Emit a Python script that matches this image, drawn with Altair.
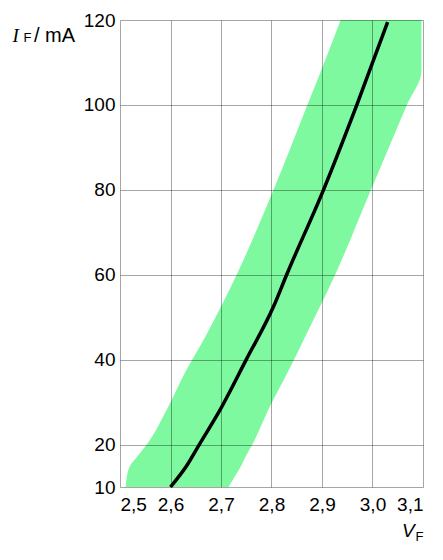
import altair as alt
import pandas as pd

# Tolerance band (forward current in mA, min / max forward voltage in V)
band_I = [10, 12, 15, 17, 20, 29, 37, 45, 60, 80, 100, 108, 120]
band_lo = [2.511, 2.513, 2.520, 2.533, 2.553, 2.596, 2.629, 2.667, 2.731, 2.804, 2.871, 2.898, 2.937]
band_hi = [2.715, 2.725, 2.740, 2.748, 2.762, 2.797, 2.832, 2.865, 2.926, 2.997, 3.068, 3.097, 3.097]

# Typical characteristic
curve_I = [10, 15, 20, 27.5, 40, 52.5, 60, 80, 100, 119.5]
curve_V = [2.600, 2.632, 2.657, 2.695, 2.750, 2.804, 2.830, 2.903, 2.969, 3.030]

x_ticks = [2.5, 2.6, 2.7, 2.8, 2.9, 3.0, 3.1]
y_ticks = [10, 20, 40, 60, 80, 100, 120]

band_df = pd.DataFrame({"I": band_I, "lo": band_lo, "hi": band_hi})
curve_df = pd.DataFrame({"I": curve_I, "V": curve_V})

W, H = 303, 467

xscale = alt.Scale(domain=[2.5, 3.1], nice=False, zero=False)
yscale = alt.Scale(domain=[10, 120], nice=False, zero=False)

axis_common = dict(
    grid=True, gridColor="#000000", gridOpacity=0.35, gridWidth=1,
    domain=False, ticks=False, title=None, zindex=1,
    labelFont="Liberation Sans", labelFontSize=19, labelColor="#000000",
)

xaxis = alt.Axis(values=x_ticks, labelPadding=8,
                 labelExpr="replace(format(datum.value, '.1f'), '.', ',')",
                 **axis_common)
yaxis = alt.Axis(values=y_ticks, labelPadding=5, format="d", **axis_common)

band = alt.Chart(band_df).mark_area(
    orient="horizontal", color="#7ef9a0", opacity=1, interpolate="monotone"
).encode(
    y=alt.Y("I:Q", scale=yscale, axis=yaxis),
    x=alt.X("lo:Q", scale=xscale, axis=xaxis),
    x2="hi:Q",
)

curve = alt.Chart(curve_df).mark_line(
    color="#000000", strokeWidth=3.5, interpolate="monotone"
).encode(
    x=alt.X("V:Q", scale=xscale),
    y=alt.Y("I:Q", scale=yscale),
)

def label(txt, x, y, size, font="Liberation Sans", style="normal"):
    return alt.Chart(pd.DataFrame({"t": [txt]})).mark_text(
        align="left", baseline="alphabetic", font=font, fontSize=size,
        fontStyle=style, color="#000000",
    ).encode(text="t:N", x=alt.value(x), y=alt.value(y))

titles = [
    label("I", -107.5, 21.5, 19, font="Liberation Serif", style="italic"),
    label("F", -96.5, 22, 13),
    label("/ mA", -86, 21.5, 20),
    label("V", 282, 517, 19, style="italic"),
    label("F", 295.5, 521, 13),
]

chart = alt.layer(band, curve, *titles).properties(
    width=W, height=H,
    autosize=alt.AutoSizeParams(type="none"),
    padding={"left": 112, "top": 12, "right": 12, "bottom": 65},
).configure_view(stroke=None)

chart.save("out.html", embed_options={"renderer": "svg", "actions": False})
